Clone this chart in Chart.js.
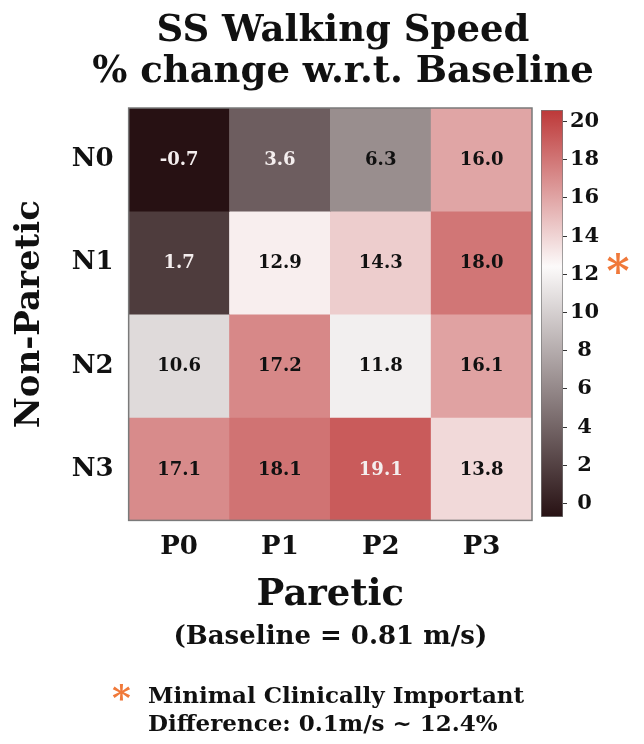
<!DOCTYPE html>
<html>
<head>
<meta charset="utf-8">
<script src="https://cdn.jsdelivr.net/npm/chart.js@4.4.1/dist/chart.umd.min.js"></script>
<style>
    body { margin: 0; background: #fff; }
    #wrap { position: relative; width: 644px; height: 744px; overflow: hidden; }
    #heat { position: absolute; left: 0; top: 0; }
    #cbar { position: absolute; left: 520px; top: 0; }
    #title { position: absolute; left: 0; top: 8px; width: 686px; text-align: center; font: bold 37px 'DejaVu Serif'; line-height: 41px; color: #111; white-space: nowrap; }
    #note { position: absolute; left: 112px; top: 679px; font: bold 23px 'DejaVu Serif'; line-height: 28px; color: #111; white-space: nowrap; }
    #note .star { color: #f0793a; font-size: 36px; position: absolute; left: 0; top: 4px; }
    #note .txt { position: absolute; left: 36px; top: 2px; }
</style>
</head>
<body>
<div id="wrap">
    <canvas id="heat" width="644" height="744"></canvas>
    <canvas id="cbar" width="124" height="744"></canvas>
    <div id="title">SS Walking Speed<br>% change w.r.t. Baseline</div>
    <div id="note"><span class="star">*</span><span class="txt">Minimal Clinically Important<br>Difference: 0.1m/s ~ 12.4%</span></div>
</div>
<script>
const paretic = ['P0', 'P1', 'P2', 'P3'];
const nonParetic = ['N0', 'N1', 'N2', 'N3'];
const rowN0 = [-0.7, 3.6, 6.3, 16.0];
const rowN1 = [1.7, 12.9, 14.3, 18.0];
const rowN2 = [10.6, 17.2, 11.8, 16.1];
const rowN3 = [17.1, 18.1, 19.1, 13.8];
const mcid = 12.4;
const scaleMin = -0.7;
const scaleMax = 20.6;
const baselineNote = '(Baseline = 0.81 m/s)';

const FONT = "'DejaVu Serif'";
// diverging map: dark brown -> white (at the MCID) -> red
const low = [39, 17, 19], mid = [252, 250, 250], high = [189, 56, 56];

function mix(a, b, t) {
    return 'rgb(' + a.map((c, i) => Math.round(c + (b[i] - c) * t)).join(',') + ')';
}
function cellColor(v) {
    if (v <= mcid) return mix(low, mid, Math.max(0, (v - scaleMin) / (mcid - scaleMin)));
    return mix(mid, high, Math.min(1, (v - mcid) / (scaleMax - mcid)));
}

const rows = [rowN0, rowN1, rowN2, rowN3];
const datasets = rows.map((vals, i) => ({
    label: nonParetic[i],
    data: vals.map(() => [i, i + 1]),
    values: vals,
    backgroundColor: vals.map(cellColor),
    borderWidth: 0,
    grouped: false,
    barPercentage: 1,
    categoryPercentage: 1
}));

// values in the cells, frame and the baseline note under the x title
const cellText = {
    id: 'cellText',
    afterDatasetsDraw(chart) {
        const ctx = chart.ctx;
        ctx.save();
        ctx.font = 'bold 18px ' + FONT;
        ctx.textAlign = 'center';
        ctx.textBaseline = 'middle';
        chart.data.datasets.forEach((ds, di) => {
            chart.getDatasetMeta(di).data.forEach((el, j) => {
                const v = ds.values[j];
                ctx.fillStyle = (v < 5 || v > 18.5) ? '#f4eeee' : '#111';
                ctx.fillText(v.toFixed(1), el.x, (el.y + el.base) / 2 + 1);
            });
        });
        const a = chart.chartArea;
        ctx.strokeStyle = '#7a7a7a';
        ctx.lineWidth = 1.5;
        ctx.strokeRect(a.left, a.top, a.right - a.left, a.bottom - a.top);
        ctx.restore();
    },
    afterDraw(chart) {
        const ctx = chart.ctx;
        const a = chart.chartArea;
        ctx.save();
        ctx.font = 'bold 26px ' + FONT;
        ctx.fillStyle = '#111';
        ctx.textAlign = 'center';
        ctx.textBaseline = 'middle';
        ctx.fillText(baselineNote, (a.left + a.right) / 2, chart.scales.x.bottom + 19);
        ctx.restore();
    }
};

new Chart(document.getElementById('heat'), {
    type: 'bar',
    data: { labels: paretic, datasets: datasets },
    options: {
        responsive: false,
        animation: false,
        layout: { padding: { left: 4, right: 112, top: 108, bottom: 126 } },
        plugins: {
            legend: { display: false },
            tooltip: { enabled: false }
        },
        scales: {
            x: {
                type: 'category',
                grid: { display: false, drawTicks: false },
                border: { display: false },
                ticks: { color: '#111', font: { family: FONT, size: 26, weight: 'bold' }, padding: 11 },
                title: { display: true, text: 'Paretic', color: '#111', font: { family: FONT, size: 37, weight: 'bold' }, padding: { top: 0, bottom: 0 } }
            },
            y: {
                min: 0,
                max: 4,
                reverse: true,
                grid: { display: false, drawTicks: false },
                border: { display: false },
                afterBuildTicks: axis => { axis.ticks = [0.5, 1.5, 2.5, 3.5].map(v => ({ value: v })); },
                ticks: {
                    color: '#111',
                    font: { family: FONT, size: 26, weight: 'bold' },
                    padding: 15,
                    callback: v => nonParetic[Math.floor(v)]
                },
                title: { display: true, text: 'Non-Paretic', color: '#111', font: { family: FONT, size: 34, weight: 'bold' }, padding: { top: 6, bottom: 6 } }
            }
        }
    },
    plugins: [cellText]
});

// colour bar
const mcidMark = {
    id: 'mcidMark',
    afterDraw(chart) {
        const ctx = chart.ctx;
        const y = chart.scales.y.getPixelForValue(mcid);
        ctx.save();
        ctx.fillStyle = '#f0793a';
        ctx.font = 'bold 44px ' + FONT;
        ctx.textAlign = 'center';
        ctx.textBaseline = 'middle';
        ctx.fillText('*', chart.chartArea.right + 55, y + 9);
        ctx.restore();
    }
};

new Chart(document.getElementById('cbar'), {
    type: 'bar',
    data: {
        labels: [''],
        datasets: [{
            data: [[scaleMin, scaleMax]],
            backgroundColor: c => {
                const ch = c.chart;
                if (!ch.chartArea) return '#fff';
                const ys = ch.scales.y;
                const g = ch.ctx.createLinearGradient(0, ys.getPixelForValue(scaleMin), 0, ys.getPixelForValue(scaleMax));
                g.addColorStop(0, cellColor(scaleMin));
                g.addColorStop((mcid - scaleMin) / (scaleMax - scaleMin), cellColor(mcid));
                g.addColorStop(1, cellColor(scaleMax));
                return g;
            },
            borderColor: '#777',
            borderWidth: 1,
            borderSkipped: false,
            barPercentage: 1,
            categoryPercentage: 1
        }]
    },
    options: {
        responsive: false,
        animation: false,
        layout: { padding: { left: 21, right: 41, top: 110, bottom: 227 } },
        plugins: { legend: { display: false }, tooltip: { enabled: false } },
        scales: {
            x: { display: false },
            y: {
                position: 'right',
                min: scaleMin,
                max: scaleMax,
                afterFit: s => { s.width = 40; },
                grid: { drawOnChartArea: false, drawTicks: true, tickLength: 4, color: '#333' },
                border: { display: false },
                ticks: {
                    stepSize: 2,
                    includeBounds: false,
                    crossAlign: 'center',
                    color: '#111',
                    padding: 3,
                    font: { family: FONT, size: 21, weight: 'bold' }
                }
            }
        }
    },
    plugins: [mcidMark]
});
</script>
</body>
</html>
